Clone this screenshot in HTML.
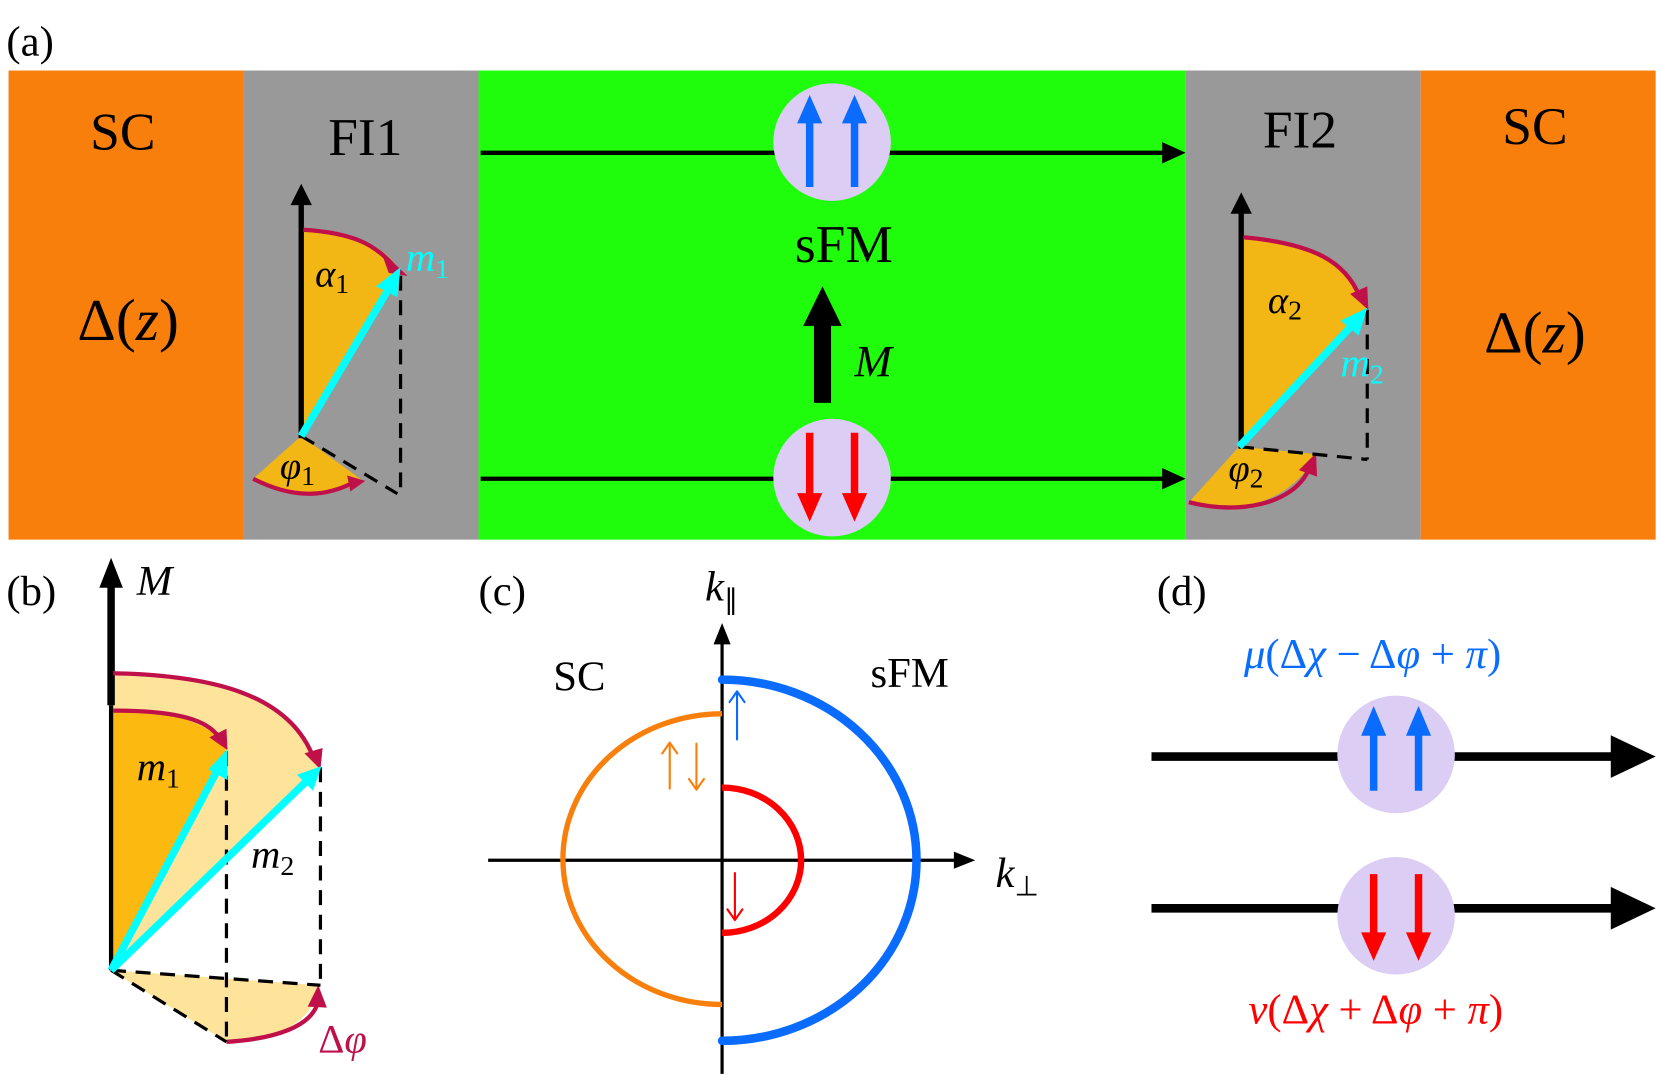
<!DOCTYPE html>
<html><head><meta charset="utf-8"><style>html,body{margin:0;padding:0;background:#fff}svg{display:block}
text{font-family:"Liberation Serif",serif}</style></head><body>
<svg width="1661" height="1075" viewBox="0 0 1555 1006" preserveAspectRatio="none" xmlns="http://www.w3.org/2000/svg">
<text x="6" y="52" font-size="40">(a)</text>
<rect x="8" y="66" width="220" height="439" fill="#f97f0c"/>
<rect x="228" y="66" width="220" height="439" fill="#999"/>
<rect x="448" y="66" width="662" height="439" fill="#1ffc0c"/>
<rect x="1110" y="66" width="220" height="439" fill="#999"/>
<rect x="1330" y="66" width="220" height="439" fill="#f97f0c"/>
<g font-size="50" text-anchor="middle">
<text x="115" y="140">SC</text><text x="342" y="145">FI1</text>
<text x="1217" y="138">FI2</text><text x="1437" y="135">SC</text>
<text x="120" y="318" font-size="56">Δ(<tspan font-style="italic">z</tspan>)</text>
<text x="1437" y="330" font-size="56">Δ(<tspan font-style="italic">z</tspan>)</text>
<text x="790" y="245">sFM</text>
</g>
<line x1="450" y1="143" x2="1090" y2="143" stroke="#000" stroke-width="4"/><path d="M1088,133 L1110,143 L1088,153z"/>
<line x1="450" y1="448" x2="1090" y2="448" stroke="#000" stroke-width="4"/><path d="M1088,438 L1110,448 L1088,458z"/>
<circle cx="779" cy="133" r="55" fill="#dccdf5"/><circle cx="779" cy="447" r="55" fill="#dccdf5"/>
<g fill="#0a6cff" stroke="#0a6cff"><line x1="758" y1="175" x2="758" y2="110" stroke-width="7"/><path d="M747,115 L758,90 L769,115z"/><line x1="800" y1="175" x2="800" y2="110" stroke-width="7"/><path d="M789,115 L800,90 L811,115z"/></g>
<g fill="#f00" stroke="#f00"><line x1="758" y1="405" x2="758" y2="465" stroke-width="7"/><path d="M747,462 L758,487 L769,462z"/><line x1="800" y1="405" x2="800" y2="465" stroke-width="7"/><path d="M789,462 L800,487 L811,462z"/></g>
<line x1="770" y1="377" x2="770" y2="300" stroke="#000" stroke-width="16"/><path d="M752,305 L770,268 L788,305z"/>
<text x="800" y="352" font-size="42" font-style="italic">M</text>
<!-- FI1 -->
<path d="M282,215 C330,218 360,228 375,255 L282,408z" fill="#f2b714"/>
<path d="M282,408 L237,448 C280,470 320,462 340,450z" fill="#f2b714"/>
<line x1="282" y1="410" x2="282" y2="190" stroke="#000" stroke-width="5"/><path d="M272,192 L282,172 L292,192z"/>
<path d="M284,215 C330,218 350,228 368,248" fill="none" stroke="#c0104a" stroke-width="4"/><path d="M360,240 L377,256 L365,254z" fill="#c0104a" stroke="#c0104a" stroke-width="3"/>
<path d="M237,448 C280,470 310,462 330,452" fill="none" stroke="#c0104a" stroke-width="4"/><path d="M325,445 L342,450 L328,460z" fill="#c0104a"/>
<line x1="375" y1="258" x2="375" y2="462" stroke="#000" stroke-width="3" stroke-dasharray="14,9"/>
<line x1="282" y1="408" x2="372" y2="462" stroke="#000" stroke-width="3" stroke-dasharray="14,9"/>
<line x1="282" y1="408" x2="364" y2="270" stroke="#0ff" stroke-width="7"/><path d="M352,268 L375,250 L372,278z" fill="#0ff"/>
<text x="295" y="268" font-size="36" font-style="italic">α<tspan font-size="26" font-style="normal" dy="6">1</tspan></text>
<text x="380" y="253" font-size="38" font-style="italic" fill="#0ff">m<tspan font-size="26" font-style="normal" dy="7">1</tspan></text>
<text x="262" y="448" font-size="36" font-style="italic">φ<tspan font-size="26" font-style="normal" dy="6">1</tspan></text>
<!-- FI2 -->
<path d="M1162,222 C1230,228 1260,245 1280,288 L1160,418z" fill="#f2b714"/>
<path d="M1160,418 L1113,470 C1160,482 1210,470 1232,425z" fill="#f2b714"/>
<line x1="1162" y1="420" x2="1162" y2="198" stroke="#000" stroke-width="5"/><path d="M1152,200 L1162,180 L1172,200z"/>
<path d="M1164,222 C1230,228 1260,245 1273,278" fill="none" stroke="#c0104a" stroke-width="4"/><path d="M1264,275 L1281,290 L1280,268z" fill="#c0104a"/>
<path d="M1113,470 C1160,482 1210,472 1225,440" fill="none" stroke="#c0104a" stroke-width="4"/><path d="M1216,440 L1232,424 L1233,446z" fill="#c0104a"/>
<line x1="1280" y1="290" x2="1280" y2="430" stroke="#000" stroke-width="3" stroke-dasharray="14,9"/>
<line x1="1160" y1="418" x2="1280" y2="430" stroke="#000" stroke-width="3" stroke-dasharray="14,9"/>
<line x1="1160" y1="418" x2="1268" y2="302" stroke="#0ff" stroke-width="7"/><path d="M1255,300 L1280,288 L1272,314z" fill="#0ff"/>
<text x="1187" y="293" font-size="36" font-style="italic">α<tspan font-size="26" font-style="normal" dy="6">2</tspan></text>
<text x="1255" y="352" font-size="38" font-style="italic" fill="#0ff">m<tspan font-size="26" font-style="normal" dy="7">2</tspan></text>
<text x="1150" y="450" font-size="36" font-style="italic">φ<tspan font-size="26" font-style="normal" dy="6">2</tspan></text>
<!-- (b) -->
<text x="6" y="566" font-size="40">(b)</text>
<path d="M104,630 C200,632 270,650 300,718 L104,908z" fill="#fee39b"/>
<path d="M104,908 L212,975 C260,972 290,960 300,922z" fill="#fee39b"/>
<path d="M104,665 C170,665 200,680 212,700 L104,908z" fill="#fcb90f"/>
<line x1="104" y1="660" x2="104" y2="545" stroke="#000" stroke-width="7"/><path d="M93,550 L104,522 L115,550z"/>
<line x1="104" y1="660" x2="104" y2="908" stroke="#000" stroke-width="4"/>
<text x="128" y="557" font-size="40" font-style="italic">M</text>
<path d="M106,630 C200,632 270,650 293,708" fill="none" stroke="#c0104a" stroke-width="4"/><path d="M285,705 L300,720 L302,700z" fill="#c0104a"/>
<path d="M106,665 C170,665 195,675 205,690" fill="none" stroke="#c0104a" stroke-width="4"/><path d="M196,690 L213,702 L212,682z" fill="#c0104a"/>
<path d="M212,975 C260,972 290,960 297,940" fill="none" stroke="#c0104a" stroke-width="4"/><path d="M288,942 L298,922 L306,943z" fill="#c0104a"/>
<g stroke="#000" stroke-width="3" stroke-dasharray="14,9">
<line x1="212" y1="703" x2="212" y2="975"/><line x1="300" y1="718" x2="300" y2="922"/>
<line x1="104" y1="908" x2="300" y2="922"/><line x1="104" y1="908" x2="212" y2="975"/></g>
<line x1="104" y1="908" x2="205" y2="718" stroke="#0ff" stroke-width="7"/><path d="M195,720 L213,701 L213,730z" fill="#0ff"/>
<line x1="104" y1="908" x2="288" y2="730" stroke="#0ff" stroke-width="7"/><path d="M278,725 L301,717 L293,740z" fill="#0ff"/>
<text x="128" y="730" font-size="38" font-style="italic">m<tspan font-size="26" font-style="normal" dy="7">1</tspan></text>
<text x="235" y="812" font-size="38" font-style="italic">m<tspan font-size="26" font-style="normal" dy="7">2</tspan></text>
<text x="298" y="985" font-size="38" fill="#c0104a">Δ<tspan font-style="italic">φ</tspan></text>
<!-- (c) -->
<text x="448" y="566" font-size="40">(c)</text>
<line x1="676" y1="1005" x2="676" y2="600" stroke="#000" stroke-width="3"/><path d="M668,603 L676,583 L684,603z"/>
<line x1="457" y1="805" x2="895" y2="805" stroke="#000" stroke-width="3"/><path d="M893,797 L913,805 L893,813z"/>
<text x="660" y="562" font-size="40" font-style="italic">k<tspan font-size="26" font-style="normal" dy="8">∥</tspan></text>
<text x="932" y="830" font-size="40" font-style="italic">k<tspan font-size="26" font-style="normal" dy="8">⊥</tspan></text>
<text x="518" y="646" font-size="40">SC</text><text x="815" y="643" font-size="40">sFM</text>
<path d="M676,636 A182,169 0 0 1 676,974" fill="none" stroke="#0a6cff" stroke-width="8" stroke-linecap="round"/>
<path d="M676,668 A149,136 0 0 0 676,940" fill="none" stroke="#f97f0c" stroke-width="5"/>
<path d="M676,737 A74,68 0 0 1 676,873" fill="none" stroke="#f00" stroke-width="6"/>
<g stroke-width="2" fill="none" stroke-linecap="round" stroke-linejoin="round">
<path d="M690,692 L690,648 M683,657 L690,647 L697,657" stroke="#0a6cff"/>
<path d="M627,738 L627,696 M620,705 L627,695 L634,705" stroke="#f97f0c"/>
<path d="M652,696 L652,738 M645,729 L652,739 L659,729" stroke="#f97f0c"/>
<path d="M688,817 L688,860 M681,851 L688,861 L695,851" stroke="#f00"/>
</g>
<!-- (d) -->
<text x="1083" y="566" font-size="40">(d)</text>
<text x="1285" y="625" font-size="40" fill="#0a6cff" text-anchor="middle"><tspan font-style="italic">μ</tspan>(Δ<tspan font-style="italic">χ</tspan> − Δ<tspan font-style="italic">φ</tspan> + <tspan font-style="italic">π</tspan>)</text>
<text x="1288" y="958" font-size="40" fill="#f00" text-anchor="middle"><tspan font-style="italic">ν</tspan>(Δ<tspan font-style="italic">χ</tspan> + Δ<tspan font-style="italic">φ</tspan> + <tspan font-style="italic">π</tspan>)</text>
<line x1="1078" y1="708" x2="1512" y2="708" stroke="#000" stroke-width="8"/><path d="M1508,688 L1550,708 L1508,728z"/>
<line x1="1078" y1="850" x2="1512" y2="850" stroke="#000" stroke-width="8"/><path d="M1508,830 L1550,850 L1508,870z"/>
<circle cx="1307" cy="706" r="55" fill="#dccdf5"/><circle cx="1307" cy="857" r="55" fill="#dccdf5"/>
<g fill="#0a6cff" stroke="#0a6cff"><line x1="1286" y1="740" x2="1286" y2="683" stroke-width="7"/><path d="M1275,688 L1286,662 L1297,688z"/><line x1="1328" y1="740" x2="1328" y2="683" stroke-width="7"/><path d="M1317,688 L1328,662 L1339,688z"/></g>
<g fill="#f00" stroke="#f00"><line x1="1286" y1="818" x2="1286" y2="878" stroke-width="7"/><path d="M1275,873 L1286,898 L1297,873z"/><line x1="1328" y1="818" x2="1328" y2="878" stroke-width="7"/><path d="M1317,873 L1328,898 L1339,873z"/></g>
</svg>
</body></html>
